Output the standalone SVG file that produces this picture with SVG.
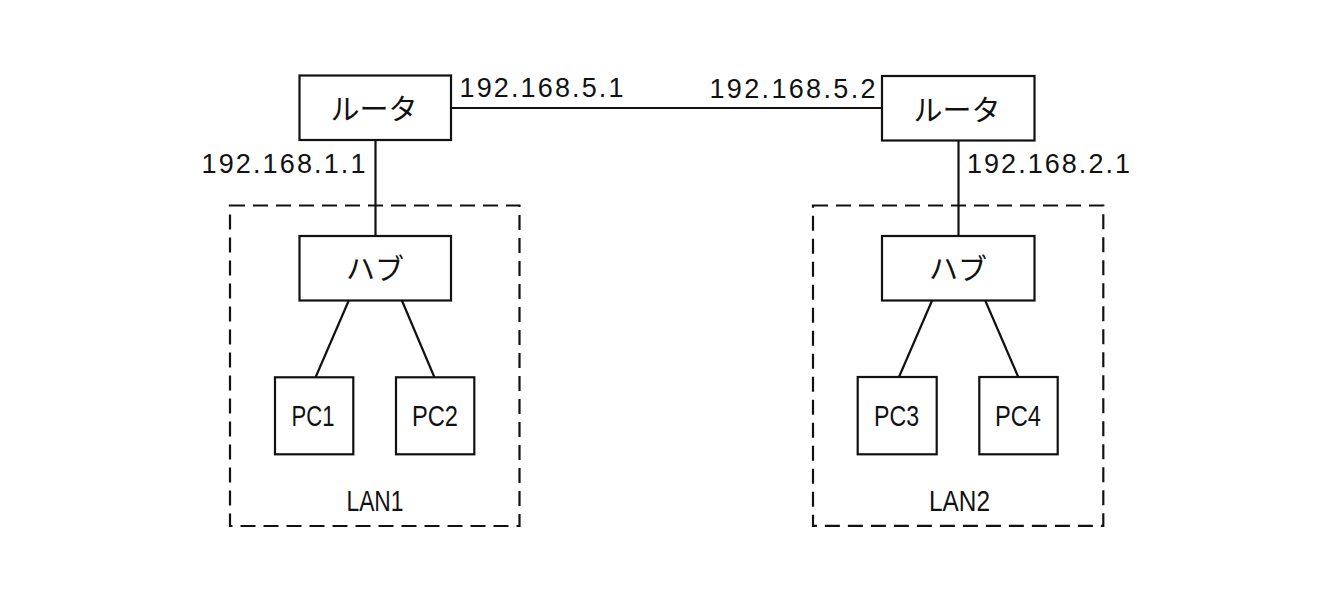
<svg xmlns="http://www.w3.org/2000/svg" width="1323" height="613" viewBox="0 0 1323 613">
<style>
.box{fill:#fff;stroke:#111;stroke-width:2.2}
.lan{fill:none;stroke:#111;stroke-width:2.2;stroke-dasharray:15 8}
.ln{stroke:#111;stroke-width:2.2;fill:none}
.ip{font-family:"Liberation Sans","Noto Sans",sans-serif;font-size:27px;fill:#111}
.lb{font-family:"Liberation Sans","Noto Sans",sans-serif;font-size:30px;fill:#111}
.jp{font-family:"Noto Sans CJK JP","Noto Sans",sans-serif;font-size:29px;fill:#111;text-anchor:middle}
</style>
<rect width="1323" height="613" fill="#fff"/>
<g id="connectors">
<line class="ln" x1="451" y1="108" x2="882" y2="108"/>
<line class="ln" x1="375.5" y1="140" x2="375.5" y2="236"/>
<line class="ln" x1="958.5" y1="140" x2="958.5" y2="236"/>
<line class="ln" x1="349" y1="300" x2="315.7" y2="377"/>
<line class="ln" x1="401.7" y1="300" x2="434.3" y2="377"/>
<line class="ln" x1="932.3" y1="300" x2="899" y2="377"/>
<line class="ln" x1="985" y1="300" x2="1018.3" y2="377"/>
</g>
<g id="lan1">
<rect class="lan" x="230" y="205.5" width="289.5" height="320.5"/>
<text class="lb" x="346.5" y="510.7" textLength="57" lengthAdjust="spacingAndGlyphs">LAN1</text>
</g>
<g id="lan2">
<rect class="lan" x="813" y="205.5" width="290.3" height="320.3"/>
<text class="lb" x="929" y="510.7" textLength="61" lengthAdjust="spacingAndGlyphs">LAN2</text>
</g>
<g id="router1">
<rect class="box" x="299.5" y="75.5" width="151.5" height="64.5"/>
<text class="jp" x="374" y="120">ルータ</text>
</g>
<g id="router2">
<rect class="box" x="882" y="76" width="152.5" height="64.5"/>
<text class="jp" x="957" y="121">ルータ</text>
</g>
<g id="hub1">
<rect class="box" x="299.5" y="236" width="151.5" height="64.5"/>
<text class="jp" x="375" y="280">ハブ</text>
</g>
<g id="hub2">
<rect class="box" x="882" y="236" width="152.5" height="64.5"/>
<text class="jp" x="958" y="280">ハブ</text>
</g>
<g id="pc1">
<rect class="box" x="275" y="377.3" width="78.3" height="77"/>
<text class="lb" x="291.5" y="426" textLength="43" lengthAdjust="spacingAndGlyphs">PC1</text>
</g>
<g id="pc2">
<rect class="box" x="396" y="377.3" width="78.3" height="77"/>
<text class="lb" x="412" y="426" textLength="46" lengthAdjust="spacingAndGlyphs">PC2</text>
</g>
<g id="pc3">
<rect class="box" x="857.7" y="377" width="79" height="77.3"/>
<text class="lb" x="874" y="425.7" textLength="45" lengthAdjust="spacingAndGlyphs">PC3</text>
</g>
<g id="pc4">
<rect class="box" x="979.3" y="377" width="78.4" height="77.3"/>
<text class="lb" x="995" y="425.7" textLength="46" lengthAdjust="spacingAndGlyphs">PC4</text>
</g>
<g id="labels">
<text class="ip" x="201.5" y="173.3" textLength="164" lengthAdjust="spacing">192.168.1.1</text>
<text class="ip" x="459.5" y="96.7" textLength="164" lengthAdjust="spacing">192.168.5.1</text>
<text class="ip" x="709.5" y="97.7" textLength="166" lengthAdjust="spacing">192.168.5.2</text>
<text class="ip" x="967" y="173" textLength="163" lengthAdjust="spacing">192.168.2.1</text>
</g>
</svg>
